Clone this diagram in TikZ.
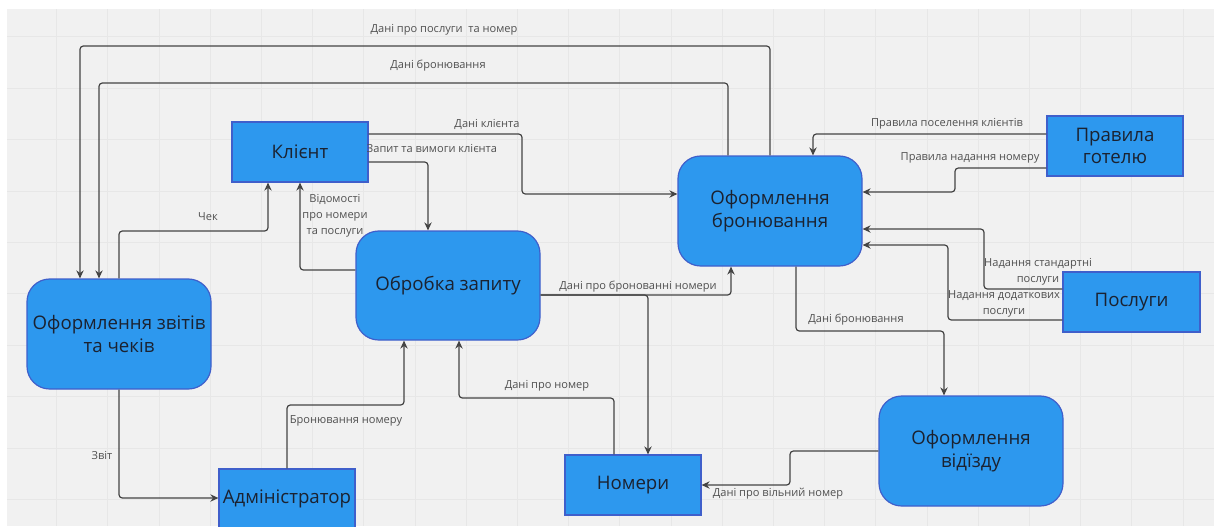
\documentclass[tikz,border=0pt]{standalone}
\usepackage{fontspec}
\setmainfont{Open Sans}
\usetikzlibrary{arrows.meta}
\definecolor{bgc}{HTML}{F1F1F1}
\definecolor{gridc}{HTML}{E7E7E7}
\definecolor{boxfill}{HTML}{2D98EE}
\definecolor{boxdraw}{HTML}{3F5FCB}
\definecolor{boxtext}{HTML}{1B2230}
\definecolor{linec}{HTML}{444444}
\definecolor{labc}{HTML}{505050}
\tikzset{
  ext/.style={draw=boxdraw, line width=0.9pt, fill=boxfill, text=boxtext, font=\fontsize{14}{17}\selectfont, align=center, inner sep=0pt},
  proc/.style={ext, rounded corners=17pt},
  flow/.style={draw=linec, line width=0.9pt, rounded corners=2.5pt, -{Stealth[length=6pt,width=5.5pt]}},
  lab/.style={text=labc, font=\fontsize{8.3}{12}\selectfont, align=center, inner sep=0pt}
}
\begin{document}
\begin{tikzpicture}[x=0.75pt,y=-0.75pt]
\useasboundingbox (0,0) rectangle (1214,526);
\clip (0,0) rectangle (1214,526);
\fill[white] (0,0) rectangle (1214,526);
\fill[bgc] (7,9) rectangle (1214,526);
\foreach \i in {0,...,22} \draw[gridc, line width=0.6pt] ({56.6+51.2*\i},9) -- ({56.6+51.2*\i},526);
\foreach \j in {0,...,9} \draw[gridc, line width=0.6pt] (7,{36.7+51.4*\j}) -- (1214,{36.7+51.4*\j});

% nodes
\node[ext, minimum width=102pt, minimum height=45pt] (client) at (300,152) {Клієнт};
\node[proc, minimum width=138pt, minimum height=81.75pt] (procq) at (448,285.5) {Обробка запиту};
\node[proc, minimum width=138pt, minimum height=82.5pt] (bron) at (770,211) {Оформлення\\бронювання};
\node[ext, minimum width=102pt, minimum height=45pt] (rules) at (1115,146) {Правила\\готелю};
\node[ext, minimum width=102.75pt, minimum height=45pt] (serv) at (1131.5,302) {Послуги};
\node[proc, minimum width=138pt, minimum height=82.5pt] (dep) at (971,451) {Оформлення\\відїзду};
\node[ext, minimum width=102pt, minimum height=45pt] (rooms) at (633,485) {Номери};
\node[ext, minimum width=102pt, minimum height=45pt] (admin) at (287,499) {Адміністратор};
\node[proc, minimum width=138pt, minimum height=82.5pt] (report) at (119,334) {Оформлення звітів\\та чеків};

% connectors
\draw[flow] (bron.north) -- (770,46) -- (80,46) -- (80,0 |- report.north);
\draw[flow] (728,0 |- bron.north) -- (728,83) -- (99,83) -- (99,0 |- report.north);
\draw[flow] (report.north) -- (119,231) -- (268,231) -- (268,0 |- client.south);
\draw[flow] (0,270 -| procq.west) -- (300,270) -- (client.south);
\draw[flow] (0,162 -| client.east) -- (428,162) -- (428,0 |- procq.north);
\draw[flow] (0,134 -| client.east) -- (522,134) -- (522,194) -- (0,194 -| bron.west);
\draw[flow] (0,134 -| rules.west) -- (813,134) -- (813,0 |- bron.north);
\draw[flow] (0,168 -| rules.west) -- (955,168) -- (955,192) -- (0,192 -| bron.east);
\draw[flow] (0,289 -| serv.west) -- (984,289) -- (984,229) -- (0,229 -| bron.east);
\draw[flow] (0,320 -| serv.west) -- (948,320) -- (948,245) -- (0,245 -| bron.east);
\draw[flow] (0,295 -| procq.east) -- (731,295) -- (731,0 |- bron.south);
\draw[flow] (0,295 -| procq.east) -- (648,295) -- (648,0 |- rooms.north);
\draw[flow] (614,0 |- rooms.north) -- (614,398) -- (459,398) -- (459,0 |- procq.south);
\draw[flow] (admin.north) -- (287,405) -- (404,405) -- (404,0 |- procq.south);
\draw[flow] (report.south) -- (119,498) -- (0,498 -| admin.west);
\draw[flow] (796,0 |- bron.south) -- (796,331) -- (944,331) -- (944,0 |- dep.north);
\draw[flow] (0,451 -| dep.west) -- (790,451) -- (790,485) -- (rooms.east);

% labels
\node[lab] (l1) at (444,30) {Дані про послуги~ та номер};
\node[lab] (l2) at (438,66) {Дані бронювання};
\node[lab] (l3) at (487,124) {Дані клієнта};
\node[lab] (l4) at (432,148) {Запит та вимоги клієнта};
\node[lab] (l5) at (208,217) {Чек};
\node[lab] (l6) at (335,216) {Відомості\\про номери\\та послуги};
\node[lab] (l7) at (947,124) {Правила поселення клієнтів};
\node[lab] (l8) at (970,158) {Правила надання номеру};
\node[lab] (l9) at (1038,272) {Надання стандартні\\послуги};
\node[lab] (l10) at (1004,304) {Надання додаткових\\послуги};
\node[lab] (l11) at (638,287) {Дані про бронованні номери};
\node[lab] (l12) at (856,320) {Дані бронювання};
\node[lab] (l13) at (547,386) {Дані про номер};
\node[lab] (l14) at (346,421) {Бронювання номеру};
\node[lab] (l15) at (102,455) {Звіт};
\node[lab] (l16) at (778,494) {Дані про вільний номер};
\end{tikzpicture}
\end{document}
